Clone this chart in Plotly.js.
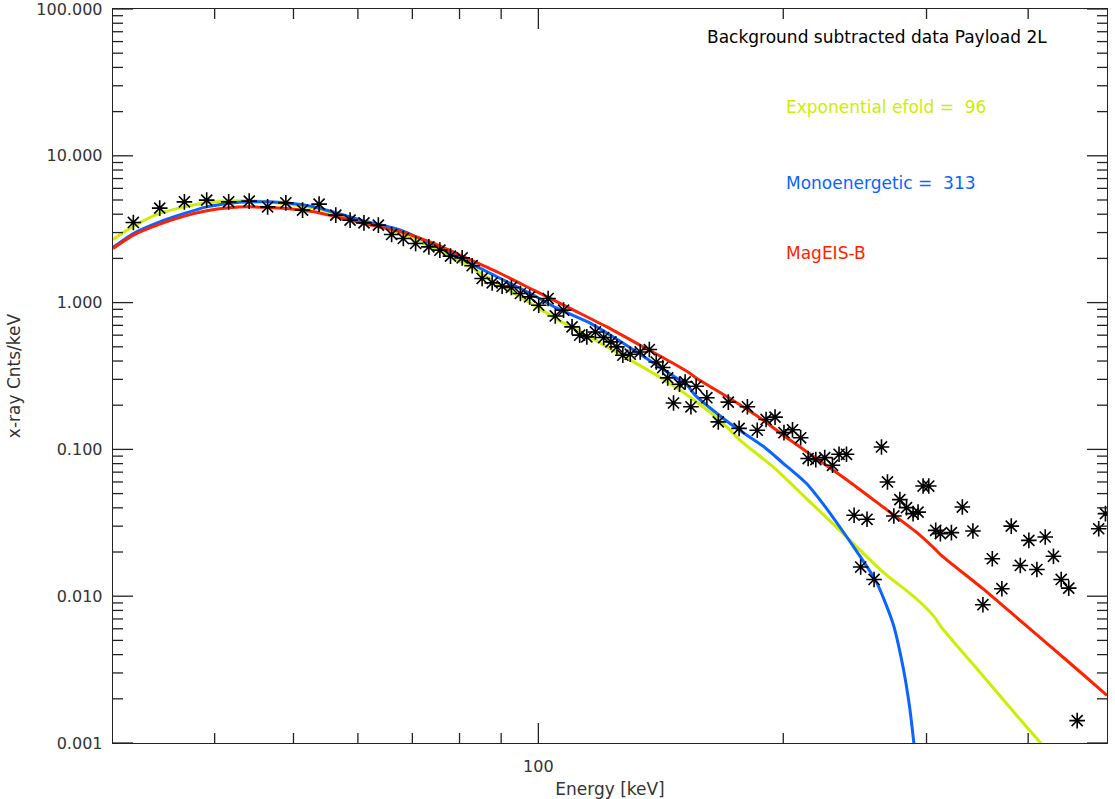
<!DOCTYPE html>
<html>
<head>
<meta charset="utf-8">
<script src="https://cdn.plot.ly/plotly-3.0.1.min.js"></script>
<style>html,body{margin:0;padding:0;background:#fff;}#chart{width:1115px;height:799px;}</style>
</head>
<body>
<div id="chart"></div>
<script>
// Observed background-subtracted counts (asterisks)
const dataEnergy = [31.78,34.24,36.72,39.11,41.62,44.11,46.47,48.93,51.30,53.76,56.36,58.69,61.04,63.58,66.01,68.23,70.65,73.35,75.67,77.98,80.60,82.91,85.28,87.74,90.26,92.65,95.04,97.57,100.1,102.8,104.9,107.4,110.0,112.4,114.7,117.5,120.3,122.8,124.9,127.0,129.7,133.4,136.9,139.6,142.2,144.2,146.6,149.1,151.5,154.0,156.3,161.1,166.4,171.2,176.5,180.7,185.8,190.5,195.4,200.4,205.3,210.1,214.6,219.3,224.9,229.9,234.2,239.2,244.4,249.0,253.5,258.6,264.1,268.6,273.5,278.2,283.5,288.8,292.9,297.1,301.9,307.9,312.0,321.9,332.0,342.1,351.9,361.4,371.3,381.3,391.2,400.8,410.0,419.8,429.7,439.2,448.7,459.5,488.4,497.8];
const dataCounts = [3.516,4.401,4.858,4.989,4.858,4.912,4.491,4.782,4.265,4.687,3.943,3.645,3.494,3.370,2.912,2.735,2.529,2.397,2.276,2.072,2.017,1.784,1.460,1.362,1.294,1.268,1.153,1.094,0.960,1.066,0.811,0.888,0.683,0.600,0.584,0.631,0.578,0.540,0.499,0.438,0.445,0.461,0.479,0.394,0.361,0.307,0.207,0.278,0.288,0.195,0.269,0.225,0.154,0.210,0.139,0.195,0.135,0.160,0.166,0.130,0.136,0.120,0.0866,0.0852,0.0879,0.0779,0.0926,0.0926,0.0356,0.0158,0.0334,0.0130,0.1039,0.0600,0.0352,0.0455,0.0401,0.0365,0.0374,0.0563,0.0563,0.0281,0.0267,0.0271,0.0405,0.0278,0.00875,0.0180,0.01125,0.0300,0.0162,0.0240,0.0152,0.0253,0.0187,0.0130,0.01135,0.00142,0.0288,0.0365];

// Exponential fit (e-fold 96 keV)
const expEnergy = [30.0,31.78,34.24,36.72,39.11,41.62,44.11,46.47,52.96,61.0,67.72,74.41,81.78,89.82,98.68,105.4,115.8,127.3,139.8,153.7,168.8,177.0,194.4,213.6,234.7,265.3,291.5,306.9,312.8,351.9,386.8,415.0];
const expCounts = [2.692,3.317,4.050,4.491,4.782,4.912,4.935,4.858,4.401,3.549,2.958,2.337,1.798,1.314,0.960,0.771,0.581,0.431,0.320,0.2266,0.150,0.1153,0.0759,0.0462,0.0281,0.0146,0.00961,0.00720,0.00616,0.00287,0.00155,0.00099];

// Monoenergetic fit (313 keV)
const monoEnergy = [30.0,31.78,34.24,36.72,39.11,41.62,44.11,46.47,48.93,52.96,61.04,67.72,74.41,81.78,89.82,98.68,105.4,115.8,127.3,139.8,152.2,156.6,172.0,189.0,200.0,213.6,226.1,234.7,244.9,260.4,272.9,280.7,286.0,289.5];
const monoCounts = [2.375,2.958,3.549,4.050,4.491,4.737,4.858,4.858,4.782,4.491,3.606,3.116,2.462,1.894,1.460,1.123,0.916,0.724,0.526,0.3745,0.2735,0.2277,0.150,0.1050,0.0804,0.0585,0.0395,0.0296,0.0211,0.01248,0.00649,0.00329,0.00175,0.00099];

// MagEIS-B derived spectrum
const mageisEnergy = [30.0,31.78,34.24,36.72,39.11,41.62,44.11,46.47,48.93,52.96,61.04,67.72,74.41,81.78,89.82,98.68,110.5,121.4,133.4,146.6,153.7,156.6,172.0,189.0,200.0,219.8,241.4,265.3,291.5,306.9,312.8,351.9,386.8,424.9,466.9,500.0];
const mageisCounts = [2.337,2.880,3.423,3.881,4.219,4.422,4.491,4.450,4.380,4.153,3.461,3.033,2.529,1.998,1.579,1.215,0.888,0.683,0.5126,0.3846,0.329,0.304,0.222,0.158,0.1248,0.0866,0.0600,0.0405,0.0273,0.0211,0.0190,0.01125,0.00719,0.00461,0.00294,0.00211];

// Axis ticks and labels
const yTickVals = [0.001,0.01,0.1,1,10,100];
const yTickText = ["0.001","0.010","0.100","1.000","10.000","100.000"];
const yDecades = [0.001,0.01,0.1,1,10];
const minorDigits = [2,3,4,5,6,7,8,9];
const yMinorVals = [];
yDecades.forEach(function(d){ minorDigits.forEach(function(k){ yMinorVals.push(d * k); }); });
const xTickVals = [100];
const xTickText = ["100"];
const xMinorVals = [40,50,60,70,80,90,200,300,400];

const legendTexts = ["Background subtracted data Payload 2L","Exponential efold =\u00a0\u00a096","Monoenergetic =\u00a0\u00a0313","MagEIS-B"];

const cYellow = "#cdee00", cBlue = "#0a64ff", cRed = "#ff2200";
const axisColor = "#222";

// Figure geometry (layout, not data)
const figW = 1115, figH = 799;
const margin = {l: 113, r: 8, t: 9, b: 56};
const plotW = figW - margin.l - margin.r, plotH = figH - margin.t - margin.b;
const xRange = [Math.log10(30), Math.log10(500)];
const yRange = [-3, 2];
const majorLen = 20, minorLen = 10;

// Tick marks (inside, mirrored on all four sides) built from the tick arrays, drawn as a line trace
const tickX = [], tickY = [];
const xPerPx = (xRange[1] - xRange[0]) / plotW, yPerPx = (yRange[1] - yRange[0]) / plotH;
function addYTick(v, len) {
  tickX.push(Math.pow(10, xRange[0]), Math.pow(10, xRange[0] + len * xPerPx), null);
  tickY.push(v, v, null);
  tickX.push(Math.pow(10, xRange[1]), Math.pow(10, xRange[1] - len * xPerPx), null);
  tickY.push(v, v, null);
}
function addXTick(v, len) {
  tickX.push(v, v, null);
  tickY.push(Math.pow(10, yRange[0]), Math.pow(10, yRange[0] + len * yPerPx), null);
  tickX.push(v, v, null);
  tickY.push(Math.pow(10, yRange[1]), Math.pow(10, yRange[1] - len * yPerPx), null);
}
yTickVals.forEach(function(v){ addYTick(v, majorLen); });
yMinorVals.forEach(function(v){ addYTick(v, minorLen); });
xTickVals.forEach(function(v){ addXTick(v, majorLen); });
xMinorVals.forEach(function(v){ addXTick(v, minorLen); });

const traces = [
  {x: expEnergy, y: expCounts, mode: "lines", line: {color: cYellow, width: 3, shape: "spline", smoothing: 0.6}, hoverinfo: "skip"},
  {x: monoEnergy, y: monoCounts, mode: "lines", line: {color: cBlue, width: 3, shape: "spline", smoothing: 0.6}, hoverinfo: "skip"},
  {x: mageisEnergy, y: mageisCounts, mode: "lines", line: {color: cRed, width: 3, shape: "spline", smoothing: 0.6}, hoverinfo: "skip"},
  {x: dataEnergy, y: dataCounts, mode: "markers", marker: {symbol: "asterisk-open", size: 13, color: "#000", line: {color: "#000", width: 1.6}}},
  {x: tickX, y: tickY, mode: "lines", connectgaps: false, line: {color: axisColor, width: 1.3}, hoverinfo: "skip"}
];

const tickFont = {family: "DejaVu Sans, sans-serif", size: 16, color: "#333"};
const titleFont = {family: "DejaVu Sans, sans-serif", size: 17, color: "#333"};
const layout = {
  width: figW, height: figH,
  margin: margin,
  showlegend: false,
  xaxis: {
    type: "log", range: xRange,
    tickmode: "array", tickvals: xTickVals, ticktext: xTickText,
    ticks: "", showline: true, linecolor: axisColor, linewidth: 1.3, mirror: true,
    showgrid: false, zeroline: false,
    tickfont: tickFont, ticklabelstandoff: 8, ticklabeloverflow: "allow",
    title: {text: "Energy [keV]", font: titleFont, standoff: 8}
  },
  yaxis: {
    type: "log", range: yRange,
    tickmode: "array", tickvals: yTickVals, ticktext: yTickText,
    ticks: "", showline: true, linecolor: axisColor, linewidth: 1.3, mirror: true,
    showgrid: false, zeroline: false,
    tickfont: tickFont, ticklabelstandoff: 6, ticklabeloverflow: "allow",
    title: {text: "x-ray Cnts/keV", font: titleFont, standoff: 11}
  },
  annotations: [
    {text: legendTexts[0], xref: "paper", yref: "paper", x: 0.5956, y: 0.9619, xanchor: "left", yanchor: "middle", showarrow: false, font: {family: "DejaVu Sans, sans-serif", size: 17, color: "#000"}},
    {text: legendTexts[1], xref: "paper", yref: "paper", x: 0.6751, y: 0.8665, xanchor: "left", yanchor: "middle", showarrow: false, font: {family: "DejaVu Sans, sans-serif", size: 17, color: cYellow}},
    {text: legendTexts[2], xref: "paper", yref: "paper", x: 0.6751, y: 0.7629, xanchor: "left", yanchor: "middle", showarrow: false, font: {family: "DejaVu Sans, sans-serif", size: 17, color: cBlue}},
    {text: legendTexts[3], xref: "paper", yref: "paper", x: 0.6751, y: 0.6676, xanchor: "left", yanchor: "middle", showarrow: false, font: {family: "DejaVu Sans, sans-serif", size: 17, color: cRed}}
  ]
};

Plotly.newPlot("chart", traces, layout, {displayModeBar: false, staticPlot: true});
</script>
</body>
</html>
